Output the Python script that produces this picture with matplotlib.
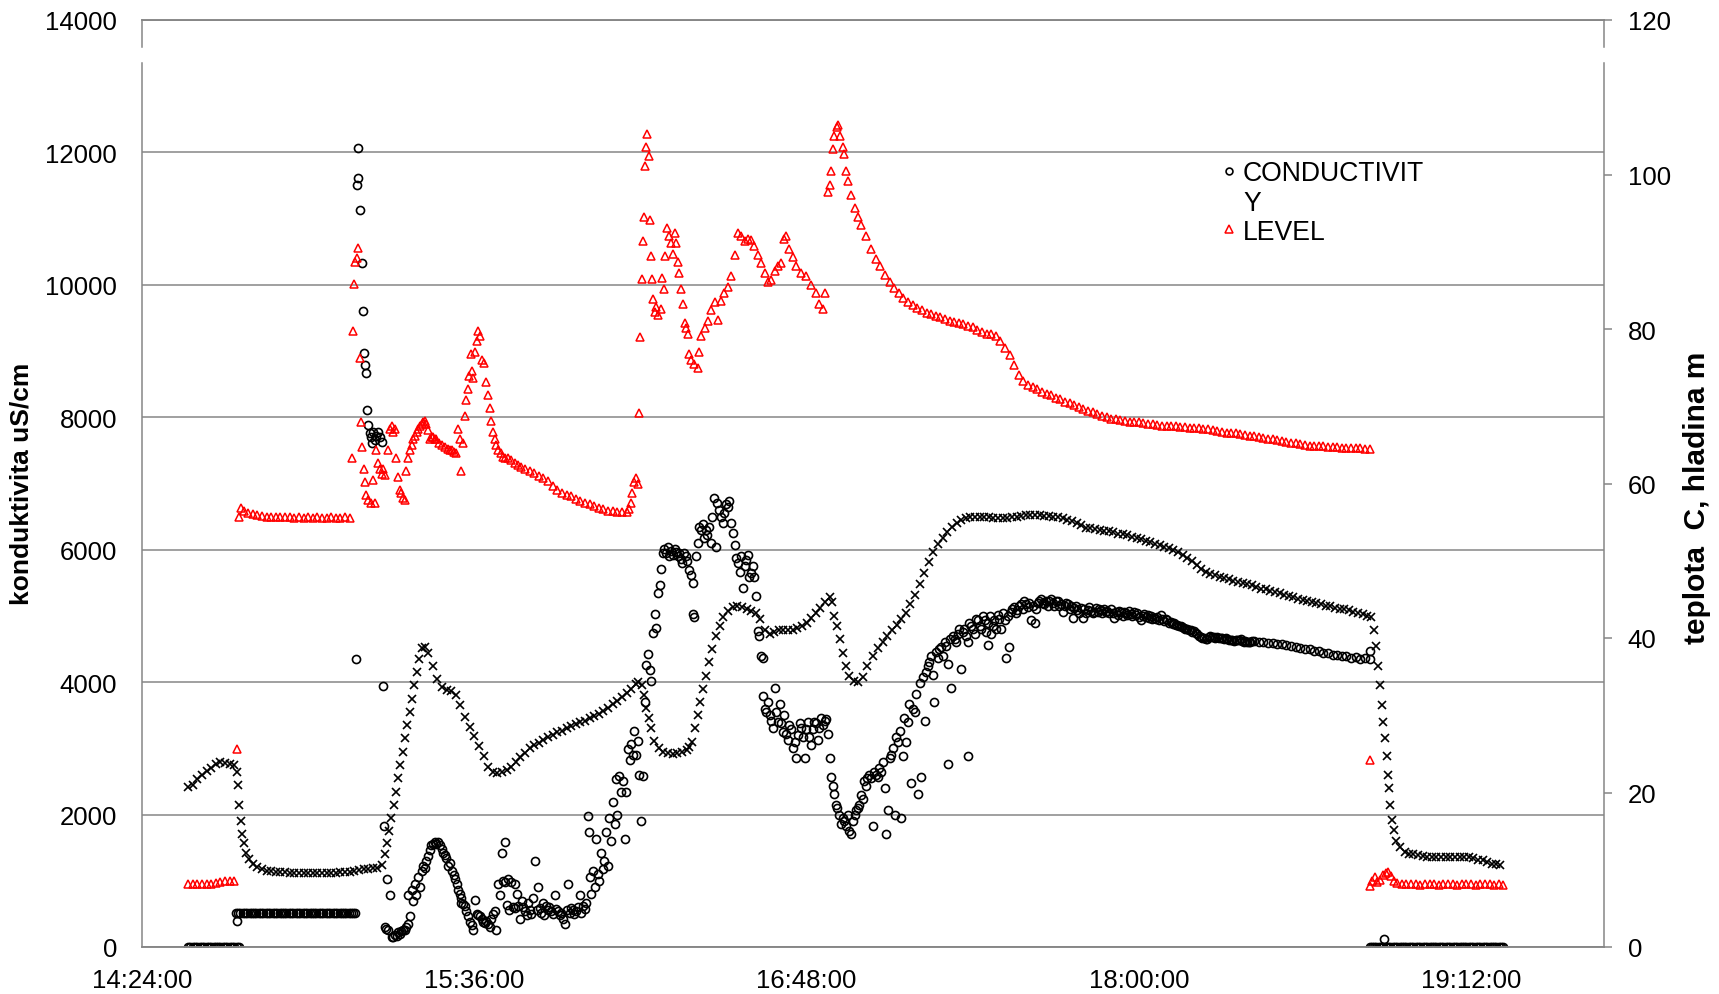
import matplotlib
matplotlib.use("Agg")
import matplotlib.pyplot as plt
from matplotlib.lines import Line2D
from matplotlib.ticker import FuncFormatter, MultipleLocator

plt.rcParams['font.family'] = ['Liberation Sans', 'DejaVu Sans']

# readings as (minutes after 14:24:00, value)
# conductivity, uS/cm (left axis)
conductivity = [
    (10, 0), (10.5, 0), (11, 0), (11.5, 0), (12, 0), (12.5, 0), (13, 0), (13.5, 0), (14, 0), (14.5, 0),
    (15, 0), (15.5, 0), (16, 0), (16.5, 0), (17, 0), (17.5, 0), (18, 0), (18.5, 0), (19, 0), (19.5, 0),
    (20, 0), (20.5, 0), (21, 0),
    (20.5, 397),
    (20.3, 510), (20.8, 510), (21.3, 510), (21.8, 510), (22.3, 510), (22.8, 510), (23.3, 510), (23.8, 510),
    (24.3, 510), (24.8, 510), (25.3, 510), (25.8, 510), (26.3, 510), (26.8, 510), (27.3, 510), (27.8, 510),
    (28.3, 510), (28.8, 510), (29.3, 510), (29.8, 510), (30.3, 510), (30.8, 510), (31.3, 510), (31.8, 510),
    (32.3, 510), (32.8, 510), (33.3, 510), (33.8, 510), (34.3, 510), (34.8, 510), (35.3, 510), (35.8, 510),
    (36.3, 510), (36.8, 510), (37.3, 510), (37.8, 510), (38.3, 510), (38.8, 510), (39.3, 510), (39.8, 510),
    (40.3, 510), (40.8, 510), (41.3, 510), (41.8, 510), (42.3, 510), (42.8, 510), (43.3, 510), (43.8, 510),
    (44.3, 510), (44.8, 510), (45.3, 510), (45.8, 510), (46.2, 510),
    (46.3, 4344), (46.5, 11504), (46.7, 12064), (46.8, 11608), (47.2, 11128), (47.7, 10328), (47.8, 9608),
    (48.1, 8968), (48.3, 8784), (48.6, 8664), (48.8, 8104), (49.0, 7880), (49.4, 7768), (49.7, 7704),
    (49.9, 7608), (50.1, 7784), (50.4, 7664), (50.8, 7720), (51.2, 7784), (51.5, 7700), (51.9, 7624),
    (52.3, 3944), (52.5, 1824), (52.6, 304), (52.9, 272), (53.1, 1027), (53.4, 264), (53.7, 784),
    (54.1, 144), (54.4, 146), (54.8, 184), (55.2, 160), (55.5, 224), (55.9, 200), (56.2, 240), (56.6, 260),
    (56.9, 264), (57.3, 300), (57.7, 344), (57.7, 784), (58.0, 464), (58.4, 864), (58.7, 700), (59.1, 944),
    (59.4, 780), (59.8, 1064), (60.2, 900), (60.6, 1144), (60.9, 1224), (61.3, 1200), (61.6, 1304),
    (62.0, 1380), (62.4, 1464), (62.7, 1544), (63.1, 1560), (63.4, 1584), (63.8, 1560), (64.1, 1590),
    (64.5, 1544), (64.9, 1480), (65.2, 1424), (65.6, 1384), (65.9, 1344), (66.3, 1224), (66.7, 1264),
    (67.1, 1144), (67.5, 1080), (67.8, 1024), (68.2, 950), (68.5, 864), (68.9, 800), (69.2, 744),
    (69.2, 664), (69.6, 650), (70.0, 624), (70.3, 540), (70.7, 464), (71.0, 384), (71.4, 330), (71.8, 264),
    (72.1, 704), (72.5, 504), (72.8, 480), (73.2, 464), (73.6, 420), (73.9, 384), (74.3, 360), (74.6, 400),
    (75.0, 344), (75.3, 300), (75.7, 424), (76.1, 500), (76.4, 544), (76.8, 264), (77.2, 944), (77.5, 784),
    (77.9, 1424), (78.2, 1000), (78.6, 1584), (78.6, 984), (79.0, 640), (79.3, 1024), (79.6, 560),
    (80.0, 984), (80.4, 600), (80.8, 944), (80.8, 584), (81.2, 800), (81.5, 624), (81.9, 424), (82.3, 700),
    (82.6, 600), (83.0, 544), (83.4, 480), (83.7, 664), (84.1, 560), (84.4, 500), (84.7, 744), (85.1, 1304),
    (85.5, 560), (85.8, 904), (86.2, 584), (86.5, 520), (86.9, 664), (87.2, 480), (87.6, 624), (87.9, 560),
    (88.3, 600), (88.7, 544), (89.0, 500), (89.4, 784), (89.8, 580), (90.2, 544), (90.5, 480), (90.9, 520),
    (91.2, 424), (91.6, 344), (92.0, 560), (92.3, 944), (92.7, 520), (93.0, 584), (93.4, 560), (93.7, 500),
    (94.1, 544), (94.5, 600), (94.9, 784), (95.2, 520), (95.6, 624), (96.0, 580), (96.3, 664),
    (96.7, 1984), (96.8, 1744), (97.0, 1064), (97.4, 800), (97.7, 1144), (98.1, 900), (98.4, 1624),
    (98.8, 1104), (99.1, 1000), (99.5, 1424), (99.9, 1184), (100.2, 1300), (100.6, 1744), (100.9, 1224),
    (101.3, 1944), (101.6, 1600), (102.0, 2184), (102.4, 1864), (102.7, 2544), (103.0, 2000),
    (103.4, 2584), (103.8, 2344), (104.2, 2504), (104.6, 1624), (104.9, 2344), (105.3, 2984),
    (105.7, 2824), (106.0, 3064), (106.4, 2900), (106.7, 3264), (107.1, 2904), (107.5, 3104),
    (107.8, 2600), (108.2, 1904), (108.5, 2584), (108.9, 3704), (109.3, 4264), (109.6, 4424),
    (110.0, 4184), (110.4, 4024), (110.7, 4744), (111.1, 5024), (111.4, 4824), (111.8, 5344),
    (112.2, 5464), (112.5, 5704), (112.9, 5944), (113.2, 6008), (113.6, 5950), (113.9, 6040),
    (114.3, 5900), (114.7, 5984), (115.0, 5920), (115.4, 6008), (115.7, 5960), (116.1, 5904),
    (116.4, 5950), (116.8, 5864), (117.1, 5800), (117.5, 5944), (117.8, 5900), (118.2, 5824),
    (118.5, 5700), (118.9, 5624), (119.3, 5504), (119.3, 5024), (119.6, 4984), (120.0, 5900),
    (120.4, 6104), (120.8, 6344), (121.1, 6300), (121.5, 6384), (121.8, 6184), (122.2, 6300),
    (122.5, 6224), (122.9, 6350), (123.3, 6104), (123.6, 6500), (124.0, 6784), (124.4, 6037),
    (124.7, 6704), (125.1, 6600), (125.5, 6487), (125.9, 6405), (126.2, 6550), (126.6, 6691),
    (127.0, 6650), (127.3, 6732), (127.7, 6405), (128.0, 6250), (128.4, 6078), (128.8, 5873),
    (129.1, 5800), (129.5, 5669), (129.8, 5900), (130.2, 5423), (130.6, 5751), (130.9, 5850),
    (131.3, 5914), (131.6, 5587), (132.0, 5650), (132.4, 5751), (132.7, 5587), (133.1, 5301),
    (133.5, 4769), (133.8, 4700), (134.2, 4401), (134.5, 4360), (134.5, 3787), (134.9, 3600),
    (135.2, 3542), (135.6, 3706), (136.0, 3500), (136.4, 3419), (136.7, 3300), (137.1, 3910),
    (137.4, 3542), (137.8, 3400), (138.2, 3665), (138.5, 3378), (138.9, 3250), (139.2, 3501),
    (139.6, 3215), (140.0, 3133), (140.3, 3350), (140.7, 3297), (141.0, 3000), (141.4, 3092),
    (141.8, 2847), (142.1, 3200), (142.5, 3378), (142.9, 3300), (143.2, 3174), (143.6, 2847),
    (143.9, 3297), (144.3, 3400), (144.6, 3174), (145.0, 3050), (145.4, 3297), (145.7, 3400),
    (146.1, 3378), (146.4, 3133), (146.8, 3300), (147.2, 3460), (147.5, 3350), (147.9, 3419),
    (148.2, 3450), (148.6, 3215), (149.0, 2847), (149.3, 2560), (149.7, 2438), (150.0, 2315),
    (150.4, 2151), (150.7, 2100), (151.1, 1988), (151.5, 1865), (151.8, 1950), (152.2, 1900),
    (152.6, 1824), (152.9, 1988), (153.3, 1750), (153.7, 1701), (154.0, 1900), (154.4, 2000),
    (154.7, 2070), (155.1, 2100), (155.4, 2151), (155.8, 2300), (156.2, 2233), (156.5, 2500),
    (156.9, 2438), (157.2, 2550), (157.6, 2601), (158.0, 2550), (158.4, 1824), (158.7, 2642),
    (159.1, 2600), (159.4, 2560), (159.8, 2700), (160.2, 2642), (160.5, 2800), (160.9, 2397),
    (161.2, 1701), (161.6, 2070), (162.0, 2847), (162.3, 2900), (162.7, 3010), (163.1, 1988),
    (163.4, 3174), (163.8, 3100), (164.2, 3256), (164.5, 1947), (164.9, 2888), (165.2, 3460),
    (165.6, 3092), (165.9, 3400), (166.3, 3665), (166.7, 2479), (167.0, 3600), (167.4, 3542),
    (167.8, 3828), (168.1, 2315), (168.5, 3992), (168.8, 2560), (169.2, 4074), (169.6, 3419),
    (169.9, 4150), (170.3, 4237), (170.6, 4300), (171.0, 4401), (171.4, 4115), (171.7, 3706),
    (172.1, 4450), (172.5, 4360), (172.8, 4500), (173.2, 4524), (173.5, 4400), (173.9, 4605),
    (174.2, 4550), (174.6, 2765), (174.6, 4278), (175.0, 4650), (175.4, 3910), (175.7, 4700),
    (176.1, 4646), (176.4, 4600), (176.8, 4728), (177.1, 4800), (177.5, 4196), (177.8, 4750),
    (178.2, 4810), (178.6, 4700), (179.0, 2888), (179.0, 4605), (179.3, 4900), (179.7, 4851),
    (180.0, 4800), (180.4, 4728), (180.7, 4950), (181.1, 4932), (181.5, 4850), (181.9, 4810),
    (182.2, 5000), (182.6, 4932), (182.9, 4750), (183.3, 4891), (183.3, 4564), (183.7, 5000),
    (184.0, 4728), (184.4, 4850), (184.7, 4932), (185.1, 4800), (185.4, 5014), (185.8, 4950),
    (186.1, 4810), (186.5, 5050), (186.9, 4932), (187.2, 4360), (187.6, 5000), (187.9, 4524),
    (188.3, 5055), (188.6, 5100), (189.0, 5137), (189.3, 5050), (189.7, 5096), (190.0, 5150),
    (190.4, 5178), (190.8, 5100), (191.2, 5219), (191.5, 5180), (191.9, 5137), (192.2, 5200),
    (192.6, 4932), (193.0, 5150), (193.4, 4891), (193.7, 5100), (194.1, 5194), (194.4, 5230),
    (194.8, 5260), (195.2, 5200), (195.5, 5178), (195.9, 5220), (196.3, 5150), (196.6, 5230),
    (197.0, 5260), (197.3, 5200), (197.7, 5150), (198.0, 5230), (198.4, 5219), (198.8, 5150),
    (199.1, 5180), (199.5, 5055), (199.9, 5150), (200.2, 5200), (200.6, 5178), (201.0, 5100),
    (201.3, 5150), (201.7, 4973), (202.0, 5120), (202.4, 5150), (202.7, 5096), (203.1, 5050),
    (203.5, 5120), (203.8, 4973), (204.2, 5100), (204.5, 5050), (204.9, 5096), (205.3, 5130),
    (205.6, 5080), (206.0, 5050), (206.3, 5055), (206.7, 5120), (207.1, 5060), (207.4, 5100),
    (207.8, 5096), (208.1, 5040), (208.5, 5100), (208.9, 5060), (209.2, 5080), (209.6, 5040),
    (209.9, 5100), (210.3, 5050), (210.7, 4973), (211.0, 5060), (211.4, 5020), (211.7, 5080),
    (212.1, 5055), (212.5, 5000), (212.8, 5060), (213.2, 5040), (213.5, 5014), (213.9, 5070),
    (214.3, 5030), (214.6, 5000), (215.0, 5055), (215.3, 5010), (215.7, 5040), (216.1, 4980),
    (216.4, 4932), (216.8, 5000), (217.1, 5030), (217.5, 4980), (217.9, 5014), (218.2, 4970),
    (218.6, 5000), (218.9, 4960), (219.3, 4973), (219.7, 4950), (220.0, 4990), (220.4, 4940),
    (220.7, 5014), (221.1, 4950), (221.5, 4920), (221.8, 4950), (222.2, 4932), (222.5, 4900),
    (222.9, 4910), (223.3, 4880), (223.6, 4891), (224.0, 4870), (224.3, 4860), (224.7, 4850),
    (225.1, 4851), (225.4, 4830), (225.8, 4820), (226.1, 4800), (226.5, 4810), (226.9, 4790),
    (227.2, 4780), (227.6, 4760), (227.9, 4769), (228.3, 4740), (228.7, 4720), (229.0, 4700),
    (229.4, 4687), (229.7, 4670), (230.1, 4660), (230.5, 4650), (230.8, 4646), (231.2, 4680),
    (231.5, 4690), (231.9, 4680), (232.3, 4687), (232.6, 4670), (233.0, 4680), (233.3, 4660),
    (233.7, 4671), (234.0, 4660), (234.4, 4650), (234.8, 4660), (235.2, 4646), (235.5, 4640),
    (235.9, 4630), (236.2, 4630), (236.6, 4622), (237.0, 4630), (237.3, 4640), (237.7, 4630),
    (238.1, 4646), (238.4, 4620), (238.8, 4610), (239.1, 4615), (239.5, 4605), (239.9, 4600),
    (240.2, 4610), (240.6, 4620), (241, 4620), (242, 4600), (243, 4610), (244, 4590), (245, 4595),
    (246, 4570), (247, 4580), (248, 4555), (249, 4550), (250, 4525), (251, 4520), (252, 4495),
    (253, 4500), (254, 4470), (255, 4470), (256, 4445), (257, 4435), (258, 4410), (259, 4415),
    (260, 4390), (261, 4390), (262, 4370), (263, 4375), (264, 4355), (265, 4365), (266, 4350),
    (266.2, 4474),
    (266, 0), (266.5, 0), (267, 0), (267.5, 0), (268, 0), (268.5, 0), (269, 0), (269.5, 0), (270, 0),
    (270.5, 0), (271, 0), (271.5, 0), (272, 0), (272.5, 0), (273, 0), (273.5, 0), (274, 0), (274.5, 0),
    (275, 0), (275.5, 0), (276, 0), (276.5, 0), (277, 0), (277.5, 0), (278, 0), (278.5, 0), (279, 0),
    (279.5, 0), (280, 0), (280.5, 0), (281, 0), (281.5, 0), (282, 0), (282.5, 0), (283, 0), (283.5, 0),
    (284, 0), (284.5, 0), (285, 0), (285.5, 0), (286, 0), (286.5, 0), (287, 0), (287.5, 0), (288, 0),
    (288.5, 0), (289, 0), (289.5, 0), (290, 0), (290.5, 0), (291, 0), (291.5, 0), (292, 0), (292.5, 0),
    (293, 0), (293.5, 0), (294, 0), (294.5, 0), (295, 0),
    (269.2, 122),
]

# level (right axis)
level = [
    (10, 8.1), (11, 8.2), (12, 8.1), (13, 8.2), (14, 8.1), (15, 8.2), (16, 8.3), (17, 8.4), (18, 8.6),
    (19, 8.5), (20, 8.6), (20.5, 25.6),
    (21, 55.7), (21.5, 56.8), (22, 56.5), (23, 56.2), (24, 56.0), (25, 55.9), (26, 55.8), (27, 55.7),
    (28, 55.7), (29, 55.6), (30, 55.7), (31, 55.6), (32, 55.6), (33, 55.5), (34, 55.6), (35, 55.5),
    (36, 55.6), (37, 55.5), (38, 55.6), (39, 55.5), (40, 55.5), (41, 55.6), (42, 55.5), (43, 55.5),
    (44, 55.6), (45, 55.5),
    (45.4, 63.3), (45.8, 79.7), (46.0, 85.8), (46.1, 88.7), (46.5, 89.2), (46.8, 90.5), (47.2, 76.3),
    (47.4, 67.9), (47.7, 64.7), (48.1, 61.9), (48.3, 60.2), (48.6, 58.5), (49.0, 57.8), (49.7, 57.5),
    (50.1, 60.5), (50.4, 57.5), (50.8, 64.3), (51.2, 62.6), (51.5, 61.9), (51.9, 61.2), (52.3, 61.9),
    (52.6, 61.1), (53.3, 64.3), (53.7, 67.1), (54.1, 67.4), (54.4, 66.7), (54.8, 67.1), (55.1, 63.3),
    (55.5, 60.9), (55.9, 59.2), (56.2, 58.8), (56.6, 58.1), (56.9, 57.8), (57.3, 61.6), (57.7, 63.3),
    (58.0, 64.3), (58.4, 65.0), (58.8, 65.7), (59.1, 66.2), (59.5, 66.7), (59.8, 67.1), (60.2, 67.4),
    (60.6, 67.7), (60.9, 68.0), (61.3, 68.1), (61.6, 67.7), (62.0, 66.9), (62.4, 65.7), (62.8, 66.0),
    (63.1, 66.0), (63.5, 65.8), (63.8, 65.7), (64.3, 65.3), (64.9, 65.0), (65.6, 64.7), (66.2, 64.5),
    (66.7, 64.3), (67.1, 64.3), (67.6, 64.1), (68.1, 64.0), (68.5, 67.1), (68.9, 65.7), (69.2, 61.6),
    (69.6, 65.3), (70.0, 68.8), (70.3, 70.8), (70.7, 72.2), (70.9, 73.9), (71.2, 76.7), (71.5, 74.6),
    (71.8, 73.6), (72.1, 77.0), (72.5, 78.4), (72.8, 79.7), (73.2, 79.1), (73.6, 76.0), (74.1, 75.6),
    (74.6, 73.2), (75.0, 71.5), (75.3, 69.8), (75.7, 68.1), (76.1, 66.7), (76.4, 65.7), (76.8, 65.0),
    (77.2, 64.3), (77.7, 63.9), (78.2, 63.4), (78.7, 63.3), (79.3, 63.3), (80, 63.0), (80.8, 62.7),
    (81.5, 62.4), (82.2, 62.1), (83, 61.9), (84, 61.6), (85, 61.4), (86, 61.0), (87, 60.7), (88, 60.3),
    (89, 59.7), (90, 59.2), (91, 58.8), (92, 58.5), (93, 58.4), (94, 58.0), (95, 57.7), (96, 57.5),
    (97, 57.3), (98, 57.1), (99, 56.8), (100, 56.7), (101, 56.5), (102, 56.4), (103, 56.3), (104, 56.3),
    (105, 56.3), (105.5, 56.7), (105.9, 57.5), (106.2, 58.8), (106.6, 60.2), (107.1, 60.7), (107.5, 59.9),
    (107.7, 69.1), (108.0, 78.9), (108.3, 86.5), (108.6, 91.4), (108.8, 94.5), (108.9, 101.1),
    (109.3, 103.6), (109.5, 105.3), (109.8, 102.4), (110.0, 94.1), (110.4, 89.5), (110.5, 86.5),
    (110.7, 83.9), (111.1, 82.2), (111.4, 82.8), (111.8, 81.8), (112.4, 82.6), (112.7, 86.6),
    (113.1, 85.2), (113.4, 89.5), (113.8, 93.1), (114.3, 92.1), (114.7, 91.1), (115.0, 89.7),
    (115.4, 92.4), (115.7, 91.1), (116.1, 88.7), (116.4, 87.3), (116.8, 85.2), (117.2, 83.2),
    (117.6, 80.8), (117.9, 80.1), (118.3, 79.4), (118.6, 76.7), (119.0, 76.0), (119.7, 75.5),
    (120.5, 74.9), (120.8, 77.0), (121.2, 79.1), (121.9, 80.1), (122.6, 81.1), (123.4, 82.5),
    (124.1, 83.5), (124.8, 81.2), (125.5, 83.6), (126.2, 84.7), (126.9, 85.4), (127.7, 86.8),
    (128.4, 89.6), (129.1, 92.4), (129.9, 92.1), (130.6, 91.4), (131.3, 91.7), (132.0, 91.5),
    (132.7, 90.8), (133.5, 89.6), (134.2, 88.5), (134.9, 87.2), (135.6, 86.1), (136.4, 86.4),
    (137.1, 87.5), (137.8, 88.2), (138.5, 88.5), (139.2, 91.7), (139.6, 92.1), (140.3, 90.3),
    (141.0, 89.3), (141.8, 88.2), (142.8, 87.3), (143.9, 86.8), (145.0, 85.7), (146.1, 84.7),
    (146.8, 83.3), (147.5, 82.6), (148.1, 84.7), (148.6, 97.7), (149.0, 98.7), (149.3, 100.5),
    (149.7, 103.3), (150.0, 105.0), (150.5, 106.1), (150.9, 106.4), (151.3, 105.0), (151.8, 103.6),
    (152.2, 102.6), (152.6, 100.5), (152.9, 99.1), (153.7, 97.3), (154.4, 95.6), (155.1, 94.5),
    (155.8, 93.5), (156.9, 92.1), (158, 90.3), (159, 89.0), (160, 88.1), (161, 87.0), (162, 86.1),
    (163, 85.3), (164, 84.6), (165, 84.0), (166, 83.5), (167, 83.1), (168, 82.7), (169, 82.4),
    (170, 82.1), (171, 81.9), (172, 81.7), (173, 81.5), (174, 81.3), (175, 81.1), (176, 80.9),
    (177, 80.8), (178, 80.7), (179, 80.4), (180, 80.2), (181, 79.9), (182, 79.6), (183, 79.4),
    (184, 79.3), (185, 79.1), (186, 78.5), (187, 77.6), (188, 76.6), (189, 75.4), (190, 74.1),
    (191, 73.3), (192, 72.8), (193, 72.5), (194, 72.2), (195, 71.9), (196, 71.6), (197, 71.4),
    (198, 71.1), (199, 70.9), (200, 70.6), (201, 70.4), (202, 70.1), (203, 69.9), (204, 69.6),
    (205, 69.4), (206, 69.2), (207, 69.0), (208, 68.8), (209, 68.6), (210, 68.4), (211, 68.3),
    (212, 68.2), (213, 68.1), (214, 68.0), (215, 67.9), (216, 67.9), (217, 67.8), (218, 67.7),
    (219, 67.7), (220, 67.6), (221, 67.5), (222, 67.5), (223, 67.4), (224, 67.4), (225, 67.3),
    (226, 67.3), (227, 67.2), (228, 67.2), (229, 67.2), (230, 67.1), (231, 67.0), (232, 66.9),
    (233, 66.8), (234, 66.7), (235, 66.6), (236, 66.5), (237, 66.5), (238, 66.4), (239, 66.3),
    (240, 66.2), (241, 66.1), (242, 66.0), (243, 65.9), (244, 65.8), (245, 65.7), (246, 65.6),
    (247, 65.5), (248, 65.4), (249, 65.3), (250, 65.2), (251, 65.1), (252, 65.0), (253, 64.9),
    (254, 64.9), (255, 64.8), (256, 64.8), (257, 64.7), (258, 64.7), (259, 64.7), (260, 64.6),
    (261, 64.6), (262, 64.6), (263, 64.6), (264, 64.6), (265, 64.5), (266, 64.5),
    (266.2, 24.2),
    (266.0, 7.9), (266.5, 8.6), (267.1, 9.0), (267.6, 8.4), (268.2, 8.7), (269, 9.3), (269.5, 9.6),
    (270, 9.7), (270.6, 9.2), (271.4, 8.6), (272, 8.3), (273, 8.2), (274, 8.1), (275, 8.2), (276, 8.1),
    (277, 8.0), (278, 8.1), (279, 8.2), (280, 8.1), (281, 8.0), (282, 8.1), (283, 8.2), (284, 8.1),
    (285, 8.0), (286, 8.1), (287, 8.2), (288, 8.1), (289, 8.0), (290, 8.1), (291, 8.2), (292, 8.1),
    (293, 8.0), (294, 8.1), (295, 8.0),
]

# temperature, C (right axis)
temperature = [
    (10, 20.7), (11, 21.0), (12, 21.7), (13, 22.3), (14, 22.8), (15, 23.2), (16, 23.7), (17, 23.9),
    (18, 23.8), (19, 23.7), (20, 23.5), (20.5, 22.7), (20.8, 21.0), (21.1, 18.4), (21.4, 16.3),
    (21.7, 14.6), (22.1, 13.4), (22.6, 12.2), (23.2, 11.4), (24, 10.8), (25, 10.4), (26, 10.1),
    (27, 9.9), (28, 9.8), (29, 9.75), (30, 9.7), (31, 9.65), (32, 9.6), (33, 9.6), (34, 9.6), (35, 9.6),
    (36, 9.6), (37, 9.6), (38, 9.6), (39, 9.6), (40, 9.6), (41, 9.6), (42, 9.6), (43, 9.65), (44, 9.7),
    (45, 9.7), (46, 9.8), (47, 10.0), (48, 10.1), (49, 10.1), (50, 10.2), (51, 10.2),
    (52, 10.6), (52.6, 12.0), (53, 13.4), (53.5, 15.0), (54, 16.7), (54.5, 18.4), (55, 20.1),
    (55.5, 21.9), (56, 23.6), (56.5, 25.3), (57, 27.0), (57.5, 28.7), (58, 30.4), (58.5, 32.1),
    (59, 33.9), (59.5, 35.6), (60, 37.3), (60.6, 38.7), (61.3, 38.8), (62, 38.1), (63, 36.4),
    (64, 34.7), (65, 33.6), (66, 33.3), (67, 33.1), (68, 32.6), (69, 31.3), (70, 29.8), (71, 28.5),
    (72, 27.3), (73, 26.0), (74, 24.7), (75, 23.3), (76, 22.6), (77, 22.5), (78, 22.6), (79, 22.9),
    (80, 23.3), (81, 24.0), (82, 24.6), (83, 25.1), (84, 25.7), (85, 26.1), (86, 26.4), (87, 26.8),
    (88, 27.2), (89, 27.5), (90, 27.8), (91, 28.0), (92, 28.3), (93, 28.6), (94, 28.9), (95, 29.1),
    (96, 29.3), (97, 29.6), (98, 29.9), (99, 30.2), (100, 30.6), (101, 31.0), (102, 31.5), (103, 31.9),
    (104, 32.4), (105, 32.9), (106, 33.4), (107, 34.0), (107.5, 34.3),
    (108.3, 33.9), (108.8, 32.6), (109.3, 30.9), (109.8, 29.6), (110.3, 28.3), (111, 26.7),
    (112, 25.8), (113, 25.3), (114, 25.1), (115, 25.0), (116, 25.1), (117, 25.3), (118, 25.5),
    (118.6, 25.9), (119.2, 26.6), (119.8, 28.3), (120.4, 30.0), (121, 31.7), (121.6, 33.4),
    (122.2, 35.1), (122.8, 36.9), (123.5, 38.6), (124.3, 40.3), (125.2, 41.6), (126, 42.7),
    (127, 43.5), (128, 44.0), (129, 44.1), (130, 44.0), (131, 43.7), (132, 43.5), (133, 43.2),
    (134, 42.4), (135, 41.1), (136, 40.5), (137, 40.8), (138, 41.1), (139, 41.1), (140, 41.1),
    (141, 41.1), (142, 41.3), (143, 41.6), (144, 42.0), (145, 42.6), (146, 43.2), (147, 43.9),
    (148, 44.6), (149, 45.3), (149.5, 44.6), (150, 42.9), (150.6, 41.6), (151.2, 39.9), (151.8, 38.1),
    (152.5, 36.4), (153.3, 35.1), (154.2, 34.4), (155.2, 34.3), (156.2, 35.0), (157.2, 36.4),
    (158.3, 37.7), (159.5, 38.7), (160.5, 39.5), (161.5, 40.3), (162.5, 41.0), (163.5, 41.7),
    (164.5, 42.4), (165.5, 43.3), (166.5, 44.4), (167.5, 45.6), (168.5, 47.0), (169.5, 48.4),
    (170.5, 49.8), (171.5, 51.1), (172.5, 52.2), (173.5, 53.0), (174.5, 53.7), (175.5, 54.4),
    (176.5, 54.9), (177.5, 55.3), (178.5, 55.5), (179.5, 55.7), (180.5, 55.7), (181.5, 55.7),
    (182.5, 55.6), (183.5, 55.6), (184.5, 55.5), (185.5, 55.5), (186.5, 55.5), (187.5, 55.5),
    (188.5, 55.6), (189.5, 55.7), (190.5, 55.8), (191.5, 55.9), (192.5, 55.9), (193.5, 55.9),
    (194.5, 55.9), (195.5, 55.8), (196.5, 55.8), (197.5, 55.7), (198.5, 55.6), (199.5, 55.5),
    (200.5, 55.3), (201.5, 55.1), (202.5, 54.9), (203.5, 54.6), (204.5, 54.3), (205.5, 54.2),
    (206.5, 54.1), (207.5, 54.0), (208.5, 53.9), (209.5, 53.8), (210.5, 53.7), (211.5, 53.5),
    (212.5, 53.4), (213.5, 53.3), (214.5, 53.1), (215.5, 53.0), (216.5, 52.8), (217.5, 52.6),
    (218.5, 52.4), (219.5, 52.2), (220.5, 52.0), (221.5, 51.8), (222.5, 51.6), (223.5, 51.4),
    (224.5, 51.1), (225.5, 50.8), (226.5, 50.4), (227.5, 50.0), (228.5, 49.4), (229.5, 48.9),
    (230.5, 48.5), (231.5, 48.3), (232.5, 48.1), (233.5, 47.9), (234.5, 47.8), (235.5, 47.6),
    (236.5, 47.4), (237.5, 47.3), (238.5, 47.1), (239.5, 47.0), (240.5, 46.8), (241.5, 46.6),
    (242.5, 46.4), (243.5, 46.3), (244.5, 46.1), (245.5, 45.9), (246.5, 45.8), (247.5, 45.6),
    (248.5, 45.4), (249.5, 45.3), (250.5, 45.1), (251.5, 44.9), (252.5, 44.8), (253.5, 44.7),
    (254.5, 44.5), (255.5, 44.4), (256.5, 44.2), (257.5, 44.1), (258.5, 43.9), (259.5, 43.8),
    (260.5, 43.7), (261.5, 43.6), (262.5, 43.4), (263.5, 43.3), (264.5, 43.1), (265.5, 42.9),
    (266.3, 42.7), (267, 41.1), (267.4, 39.0), (267.8, 36.4), (268.2, 33.9), (268.6, 31.3),
    (269, 29.1), (269.4, 27.0), (269.7, 24.7), (269.95, 22.3), (270.2, 20.6), (270.5, 18.4),
    (270.8, 16.5), (271.2, 15.1), (271.8, 13.7), (272.6, 12.9), (273.6, 12.3), (274.5, 12.1),
    (275.5, 12.0), (276.5, 11.9), (277.5, 11.8), (278.5, 11.7), (279.5, 11.7), (280.5, 11.7),
    (281.5, 11.7), (282.5, 11.7), (283.5, 11.6), (284.5, 11.6), (285.5, 11.6), (286.5, 11.6),
    (287.5, 11.6), (288.5, 11.5), (289.5, 11.3), (290.5, 11.2), (291.5, 11.0), (292.5, 10.8),
    (293.5, 10.7), (294.3, 10.6),
]

START_DAY = 0.6  # 14:24:00 as fraction of a day


def split(series):
    xs = [START_DAY + m / 1440 for m, _ in series]
    ys = [v for _, v in series]
    return xs, ys


def hms(x, pos):
    s = int(round(x * 86400))
    return '%d:%02d:%02d' % (s // 3600, (s % 3600) // 60, s % 60)


grey = '#868686'
fs = 18.5

fig = plt.figure(figsize=(17.19, 9.95), dpi=100)
ax = fig.add_axes([142 / 1719, 1 - 948 / 995, 1462 / 1719, 927 / 995])
ax2 = ax.twinx()

cx, cy = split(conductivity)
lx, ly = split(level)
tx, ty = split(temperature)

h_cond, = ax.plot(cx, cy, ls='none', marker='o', ms=5.8, mfc='none', mec='black', mew=1.2)
h_temp, = ax2.plot(tx, ty, ls='none', marker='x', ms=5.8, mec='black', mew=1.2)
h_lvl, = ax2.plot(lx, ly, ls='none', marker='^', ms=6.2, mfc='none', mec='red', mew=1.1)

ax.set_xlim(0.6, 0.82)
ax.set_ylim(0, 14000)
ax2.set_ylim(0, 120)
ax.xaxis.set_major_locator(MultipleLocator(0.05))
ax.xaxis.set_major_formatter(FuncFormatter(hms))
ax.yaxis.set_major_locator(MultipleLocator(2000))
ax2.yaxis.set_major_locator(MultipleLocator(20))

ax.yaxis.grid(True, color=grey, lw=1.1)
ax.set_axisbelow(True)

for a in (ax, ax2):
    for side in ('left', 'right'):
        a.spines[side].set_visible(False)
    for side in ('top', 'bottom'):
        a.spines[side].set_color(grey)
        a.spines[side].set_linewidth(1.1)

# side axes lines are broken just below the top
for xa in (0, 1):
    ax.plot([xa, xa], [0, 0.9536], transform=ax.transAxes, color=grey, lw=1.1, clip_on=False)
    ax.plot([xa, xa], [0.9709, 1], transform=ax.transAxes, color=grey, lw=1.1, clip_on=False)

ax.tick_params(axis='y', length=0, pad=18, labelsize=fs)
ax.tick_params(axis='x', length=0, pad=15, labelsize=fs)
ax2.tick_params(axis='y', length=6, width=1.1, color=grey, pad=11, labelsize=fs)

fig.text(22 / 1719, 1 - 484 / 995, 'konduktivita uS/cm', rotation=90, ha='center', va='center',
         fontsize=19, fontweight='bold')
fig.text(1697 / 1719, 1 - 498 / 995, 'teplota  C, hladina m', rotation=90, ha='center', va='center',
         fontsize=21.5, fontweight='bold')

blank = Line2D([], [], ls='none')
ax2.legend([h_cond, blank, h_lvl], ['CONDUCTIVIT', 'Y', 'LEVEL'], loc='upper left',
           bbox_to_anchor=(0.729, 0.863), frameon=False, fontsize=19.2, borderpad=0,
           handlelength=0.6, handletextpad=0.22, labelspacing=0.12, markerscale=0.85)

fig.savefig('out.png', dpi=100)
